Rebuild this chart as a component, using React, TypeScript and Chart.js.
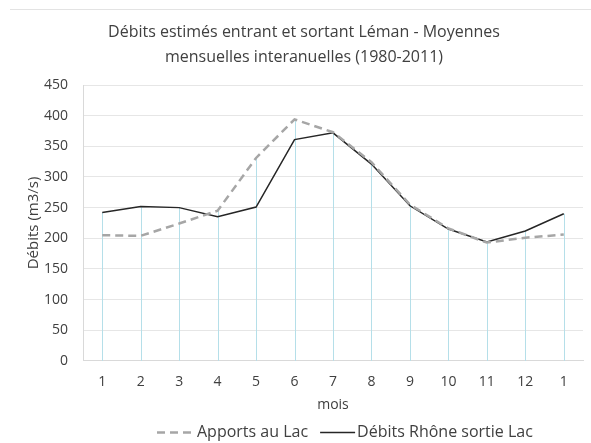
import React, { useEffect, useRef } from "react";
import { Chart, registerables } from "chart.js";

Chart.register(...registerables);

const months = ["1", "2", "3", "4", "5", "6", "7", "8", "9", "10", "11", "12", "1"];
const apportsLac = [205, 204, 224, 245, 331, 394, 373, 324, 255, 216, 193, 201, 206];
const debitsRhone = [242, 252, 250, 235, 251, 361, 372, 321, 253, 215, 194, 212, 240];
const titleLines = ["Débits estimés entrant et sortant Léman - Moyennes", "mensuelles interanuelles (1980-2011)"];

const FONT = "'Open Sans', 'Noto Sans', sans-serif";

const dropLines = {
  id: "dropLines",
  beforeDatasetsDraw(chart: any) {
    const { ctx, scales } = chart;
    const x = scales.x;
    const y = scales.y;
    ctx.save();
    ctx.strokeStyle = "#b5dfe9";
    ctx.lineWidth = 1;
    months.forEach((_, i) => {
      const top = Math.max(apportsLac[i], debitsRhone[i]);
      const px = Math.round(x.getPixelForValue(i)) + 0.5;
      ctx.beginPath();
      ctx.moveTo(px, y.getPixelForValue(top));
      ctx.lineTo(px, y.getPixelForValue(0));
      ctx.stroke();
    });
    ctx.restore();
  },
};

// Legend drawn as line samples + labels, taken from the datasets
const lineLegend = {
  id: "lineLegend",
  afterDraw(chart: any) {
    const { ctx } = chart;
    const y = 432.5;
    let x = 157;
    ctx.save();
    ctx.font = `16px ${FONT}`;
    ctx.textBaseline = "middle";
    ctx.textAlign = "left";
    chart.data.datasets.forEach((ds: any, i: number) => {
      const w = i === 0 ? 38 : 35;
      ctx.strokeStyle = ds.borderColor;
      ctx.lineWidth = ds.borderWidth;
      ctx.setLineDash(ds.borderDash || []);
      ctx.beginPath();
      ctx.moveTo(x, y);
      ctx.lineTo(x + w, y);
      ctx.stroke();
      ctx.setLineDash([]);
      x += w + 2;
      ctx.fillStyle = "#404040";
      ctx.fillText(ds.label, x, y);
      x += ctx.measureText(ds.label).width + 12;
    });
    ctx.restore();
  },
};

export default function App() {
  const ref = useRef<HTMLCanvasElement>(null);
  useEffect(() => {
    if (!ref.current) return;
    const chart = new Chart(ref.current, {
      type: "line",
      data: {
        labels: months,
        datasets: [
          {
            label: "Apports au Lac",
            data: apportsLac,
            borderColor: "#a6a6a6",
            borderWidth: 2.5,
            borderDash: [8, 5],
            pointRadius: 0,
            tension: 0,
          },
          {
            label: "Débits Rhône sortie Lac",
            data: debitsRhone,
            borderColor: "#262626",
            borderWidth: 1.5,
            pointRadius: 0,
            tension: 0,
          },
        ],
      },
      options: {
        responsive: false,
        animation: false,
        layout: { padding: { left: 25, right: 8, top: 6, bottom: 20 } },
        plugins: {
          title: {
            display: true,
            text: titleLines,
            color: "#404040",
            font: { family: FONT, size: 16, weight: "normal", lineHeight: 1.5625 },
            padding: { top: 14, bottom: 15 },
          },
          legend: { display: false },
          tooltip: { enabled: false },
        },
        scales: {
          x: {
            offset: true,
            grid: { display: false, drawTicks: false },
            border: { color: "#d9d9d9" },
            ticks: { color: "#404040", font: { family: FONT, size: 14 }, padding: 12.5 },
            title: {
              display: true,
              text: "mois",
              color: "#404040",
              font: { family: FONT, size: 14 },
              padding: { top: -6.5, bottom: 10 },
            },
          },
          y: {
            min: 0,
            max: 450,
            afterFit(scale: any) {
              scale.width = 58;
            },
            ticks: { stepSize: 50, color: "#404040", font: { family: FONT, size: 14 }, padding: 15 },
            grid: { color: "#e6e6e6", drawTicks: false },
            border: { color: "#d9d9d9" },
            title: {
              display: true,
              text: "Débits (m3/s)",
              color: "#404040",
              font: { family: FONT, size: 15 },
              padding: { top: 0, bottom: 2 },
            },
          },
        },
      },
      plugins: [dropLines, lineLegend],
    });
    return () => chart.destroy();
  }, []);
  return (
    <div style={{ position: "absolute", left: 0, top: 0, width: 591, height: 443, background: "#fff" }}>
      <div style={{ position: "absolute", left: 10, right: 0, top: 9, borderTop: "1px solid #e3e3e3" }} />
      <canvas ref={ref} width={591} height={443} />
    </div>
  );
}
